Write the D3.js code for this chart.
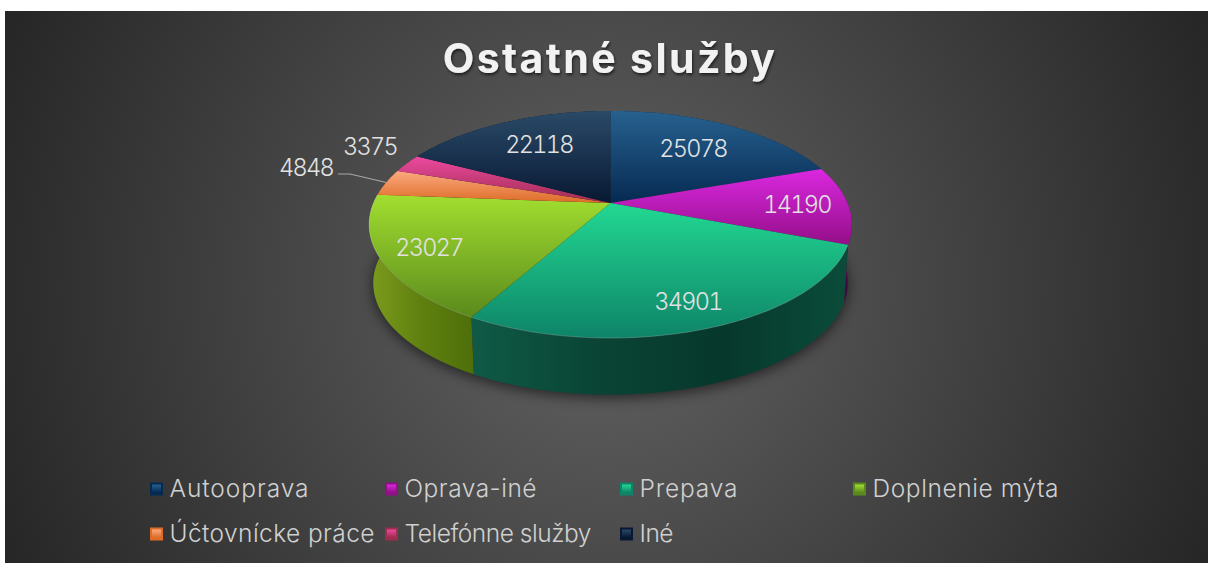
<!DOCTYPE html>
<html>
<head>
<meta charset="utf-8">
<script src="https://cdn.jsdelivr.net/npm/d3@7"></script>
<style>
html, body { margin: 0; padding: 0; background: #fff; overflow: hidden; }
text { font-family: "Inter", "Lato", sans-serif; }
</style>
</head>
<body>
<svg id="chart" width="1208" height="563"></svg>
<script>
const categories = ["Autooprava", "Oprava-iné", "Prepava", "Doplnenie mýta", "Účtovnícke práce", "Telefónne služby", "Iné"];
const values = [25078, 14190, 34901, 23027, 4848, 3375, 22118];

// top gradient of every slice, then wall gradient (left to right)
const topColors = [["#27618f", "#052a52"], ["#da28e0", "#940e88"], ["#22d892", "#0e8468"], ["#a2de30", "#5a8a1c"], ["#fbaa80", "#dd6c26"], ["#ec4aa0", "#a02c50"], ["#2a4a68", "#081832"]];
const wallColors = [["#04203e", "#04203e"], ["#5a0a60", "#3c0a40"], ["#0f5a46", "#0a4435", "#06382c", "#0b4c39"], ["#7c9c1e", "#5f800f", "#4e6e0a"], ["#a05020", "#a05020"], ["#802050", "#802050"], ["#061428", "#061428"]];

// where the value labels sit (centre of text)
const labelPos = [[693, 148], [797, 204], [688, 301], [429, 247], [306, 167], [370, 146], [539, 144]];
// legend text widths, the original face is wider than what we have here
const legendWidths = [139, 132, 98, 186, 205, 187, 34];

const svg = d3.select("#chart");
const defs = svg.append("defs");

// plate
const bg = defs.append("radialGradient").attr("id", "bg")
    .attr("gradientUnits", "userSpaceOnUse")
    .attr("cx", 606).attr("cy", 290).attr("r", 660);
bg.append("stop").attr("offset", 0).attr("stop-color", "#636363");
bg.append("stop").attr("offset", 1).attr("stop-color", "#262626");

svg.append("rect").attr("x", 5).attr("y", 11).attr("width", 1203).attr("height", 552).attr("fill", "url(#bg)");

const blur = defs.append("filter").attr("id", "soft")
    .attr("x", "-20%").attr("y", "-20%").attr("width", "140%").attr("height", "140%");
blur.append("feGaussianBlur").attr("stdDeviation", 7);

const titleShadow = defs.append("filter").attr("id", "titleShadow")
    .attr("x", "-10%").attr("y", "-30%").attr("width", "120%").attr("height", "160%");
titleShadow.append("feDropShadow").attr("dx", 1).attr("dy", 2).attr("stdDeviation", 1.5)
    .attr("flood-color", "#000").attr("flood-opacity", 0.6);

// perspective of the pie: k makes the far side smaller
const cx = 610.5, cy = 203, scaleX = 237, scaleY = 109.5, k = 0.189;
const dropY = 59, dropScale = 0.983;

function project(angle, r = 1, lower = false) {
    const u = r * Math.sin(angle), v = -r * Math.cos(angle);
    const w = 1 - k * v;
    const s = lower ? dropScale : 1;
    return [cx + s * scaleX * u / w, cy + (lower ? dropY : 0) + s * scaleY * v / w];
}

function arcPoints(a0, a1, lower) {
    const n = Math.max(2, Math.ceil((a1 - a0) / 0.02));
    return d3.range(n + 1).map(i => project(a0 + (a1 - a0) * i / n, 1, lower));
}

const pie = d3.pie().sort(null).value(d => d)(values);
const line = d3.line();

function addGradient(id, colors, vertical) {
    const g = defs.append("linearGradient").attr("id", id)
        .attr("x1", 0).attr("y1", 0)
        .attr("x2", vertical ? 0 : 1).attr("y2", vertical ? 1 : 0);
    colors.forEach((c, i) => g.append("stop").attr("offset", i / (colors.length - 1)).attr("stop-color", c));
}
topColors.forEach((c, i) => addGradient("top" + i, c, true));
wallColors.forEach((c, i) => addGradient("wall" + i, c, false));

// soft shadow under the pie
const rim = arcPoints(0, 2 * Math.PI, true);
svg.append("path")
    .attr("d", line(rim) + "Z")
    .attr("transform", "translate(0,3)")
    .attr("fill", "#000").attr("opacity", 0.6).attr("filter", "url(#soft)");

// walls first, the top covers whatever faces away
svg.append("g").selectAll("path").data(pie).join("path")
    .attr("d", d => line(arcPoints(d.startAngle, d.endAngle, false).concat(arcPoints(d.startAngle, d.endAngle, true).reverse())) + "Z")
    .attr("fill", (d, i) => `url(#wall${i})`);

svg.append("g").selectAll("path").data(pie).join("path")
    .attr("d", d => line([project(0, 0)].concat(arcPoints(d.startAngle, d.endAngle, false))) + "Z")
    .attr("fill", (d, i) => `url(#top${i})`);

// pale rim along the front edge
svg.append("g").selectAll("path").data(pie.slice(2, 4)).join("path")
    .attr("d", d => line(arcPoints(d.startAngle, d.endAngle, false)))
    .attr("fill", "none").attr("stroke", "#fff").attr("stroke-opacity", 0.25).attr("stroke-width", 0.8);

// value labels
svg.append("g").selectAll("text").data(values).join("text")
    .attr("x", (d, i) => labelPos[i][0])
    .attr("y", (d, i) => labelPos[i][1] + 8.5)
    .attr("text-anchor", "middle")
    .attr("font-size", 23.5)
    .attr("font-weight", 300)
    .attr("letter-spacing", -1.7)
    .style("font-variant-numeric", "tabular-nums")
    .attr("fill", "#e2e2e2")
    .text(d => d);

// leader for the 4848 slice
const leaderEnd = project((pie[4].startAngle + pie[4].endAngle) / 2, 1);
svg.append("path")
    .attr("d", line([[338, 174], [350, 174], leaderEnd]))
    .attr("fill", "none").attr("stroke", "#a8a8a8").attr("stroke-width", 1.2);

// title
svg.append("text")
    .attr("x", 610).attr("y", 73)
    .attr("text-anchor", "middle")
    .attr("font-size", 41)
    .attr("font-weight", 700)
    .attr("letter-spacing", 2.4)
    .attr("fill", "#f2f2f2")
    .attr("filter", "url(#titleShadow)")
    .text("Ostatné služby");

// legend, 4 per row
const legendX = [150, 385, 620, 853], legendY = [489, 534], box = 13;
const legend = svg.append("g").selectAll("g").data(categories).join("g")
    .attr("transform", (d, i) => `translate(${legendX[i % 4]},${legendY[Math.floor(i / 4)]})`);
legend.append("rect")
    .attr("x", 0).attr("y", -6.5).attr("width", box).attr("height", box)
    .attr("fill", (d, i) => topColors[i][1]);
legend.append("rect")
    .attr("x", 2).attr("y", -4.5).attr("width", box - 4).attr("height", box - 5)
    .attr("fill", (d, i) => `url(#top${i})`);
legend.append("text")
    .attr("x", 19.5).attr("y", 8)
    .attr("font-size", 24.5)
    .attr("font-weight", 300)
    .attr("fill", "#d0d0d0")
    .attr("textLength", (d, i) => legendWidths[i])
    .attr("lengthAdjust", "spacing")
    .text(d => d);
</script>
</body>
</html>
